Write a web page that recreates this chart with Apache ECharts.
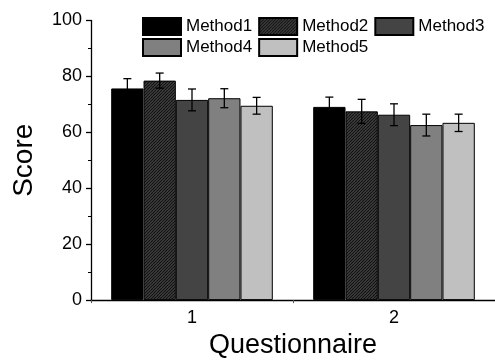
<!DOCTYPE html>
<html>
<head>
<meta charset="utf-8">
<style>html,body{margin:0;padding:0;background:#fff}#c{width:495px;height:364px}</style>
<script src="https://cdn.jsdelivr.net/npm/echarts@6/dist/echarts.min.js"></script>
</head>
<body>
<div id="c"></div>
<script>
const categories = ['1', '2'];
const methods = ['Method1', 'Method2', 'Method3', 'Method4', 'Method5'];
const method1 = [75.7, 69.1];
const method2 = [78.5, 67.5];
const method3 = [71.6, 66.3];
const method4 = [72.2, 62.6];
const method5 = [69.5, 63.4];
const err1 = [3.5, 3.5];
const err2 = [2.7, 4.3];
const err3 = [3.9, 3.9];
const err4 = [3.4, 3.9];
const err5 = [3.0, 3.1];
const yTicks = [0, 20, 40, 60, 80, 100];

const values = [method1, method2, method3, method4, method5];
const errs = [err1, err2, err3, err4, err5];

// hatch pattern for Method2
const pc = document.createElement('canvas');
pc.width = 6; pc.height = 6;
const pctx = pc.getContext('2d');
pctx.fillStyle = '#484848';
pctx.fillRect(0, 0, 6, 6);
pctx.strokeStyle = '#111';
pctx.lineWidth = 1.2;
for (let k = -6; k <= 12; k += 3) {
  pctx.beginPath();
  pctx.moveTo(k, 6);
  pctx.lineTo(k + 6, 0);
  pctx.stroke();
}
const fills = ['#000000', {image: pc, repeat: 'repeat'}, '#444444', '#808080', '#c0c0c0'];

const FONT = 'Liberation Sans, Arial, sans-serif';
const chart = echarts.init(document.getElementById('c'));

const barSeries = methods.map((m, i) => ({
  name: m,
  type: 'bar',
  data: values[i],
  barGap: '0%',
  barCategoryGap: '20%',
  itemStyle: {color: fills[i], borderColor: '#000', borderWidth: 1},
  emphasis: {disabled: true},
  z: 2
}));

const errData = [];
methods.forEach((m, i) => {
  categories.forEach((c, j) => {
    errData.push([j, values[i][j], errs[i][j], i]);
  });
});

const errSeries = {
  type: 'custom',
  name: 'err',
  data: errData,
  encode: {x: 0, y: 1},
  z: 5,
  silent: true,
  renderItem: function (params, api) {
    const cat = api.value(0), v = api.value(1), e = api.value(2), mi = api.value(3);
    const band = api.size([1, 0])[0];
    const bw = band * 0.8 / methods.length;
    const c0 = api.coord([cat, v]);
    const x = c0[0] + (mi - (methods.length - 1) / 2) * bw;
    const yt = api.coord([cat, v + e])[1];
    const yb = api.coord([cat, v - e])[1];
    const hw = 4;
    const st = {stroke: '#000', lineWidth: 1.3};
    return {
      type: 'group',
      children: [
        {type: 'line', shape: {x1: x, y1: yt, x2: x, y2: yb}, style: st},
        {type: 'line', shape: {x1: x - hw, y1: yt, x2: x + hw, y2: yt}, style: st},
        {type: 'line', shape: {x1: x - hw, y1: yb, x2: x + hw, y2: yb}, style: st}
      ]
    };
  }
};

const legendCommon = {
  left: 137,
  itemWidth: 38,
  itemHeight: 17,
  itemGap: 6,
  icon: 'rect',
  selectedMode: false,
  textStyle: {fontFamily: FONT, fontSize: 17, color: '#000', padding: [0, 0, 0, 0]}
};

chart.setOption({
  animation: false,
  backgroundColor: '#fff',
  textStyle: {fontFamily: FONT},
  legend: [
    Object.assign({}, legendCommon, {top: 12, data: methods.slice(0, 3)}),
    Object.assign({}, legendCommon, {top: 33, data: methods.slice(3)})
  ],
  grid: {left: 91, right: -5, top: 20.5, bottom: 54.7, containLabel: false},
  xAxis: [{
    type: 'category',
    data: categories,
    name: 'Questionnaire',
    nameLocation: 'middle',
    nameGap: 31,
    nameTextStyle: {fontFamily: FONT, fontSize: 27, color: '#000'},
    axisLine: {lineStyle: {color: '#000', width: 1.3}},
    axisTick: {alignWithLabel: true, length: 5, lineStyle: {color: '#000', width: 1.3}},
    axisLabel: {fontFamily: FONT, fontSize: 18, color: '#000', margin: 9}
  }, {
    type: 'category',
    data: categories,
    position: 'bottom',
    gridIndex: 0,
    axisLine: {show: false},
    axisTick: {show: true, alignWithLabel: false, length: 3, lineStyle: {color: '#555', width: 1}},
    axisLabel: {show: false}
  }],
  yAxis: {
    type: 'value',
    min: 0,
    max: 100,
    interval: 20,
    name: 'Score',
    nameLocation: 'middle',
    nameGap: 53,
    nameTextStyle: {fontFamily: FONT, fontSize: 28, color: '#000'},
    axisLine: {show: true, lineStyle: {color: '#000', width: 1.3}},
    axisTick: {show: true, length: 5, lineStyle: {color: '#000', width: 1.3}},
    minorTick: {show: true, splitNumber: 2, length: 3, lineStyle: {color: '#000', width: 1}},
    splitLine: {show: false},
    axisLabel: {fontFamily: FONT, fontSize: 18, color: '#000', margin: 9,
      formatter: function (v) { return yTicks.indexOf(v) >= 0 ? String(v) : ''; }}
  },
  series: barSeries.concat([errSeries])
});
</script>
</body>
</html>
